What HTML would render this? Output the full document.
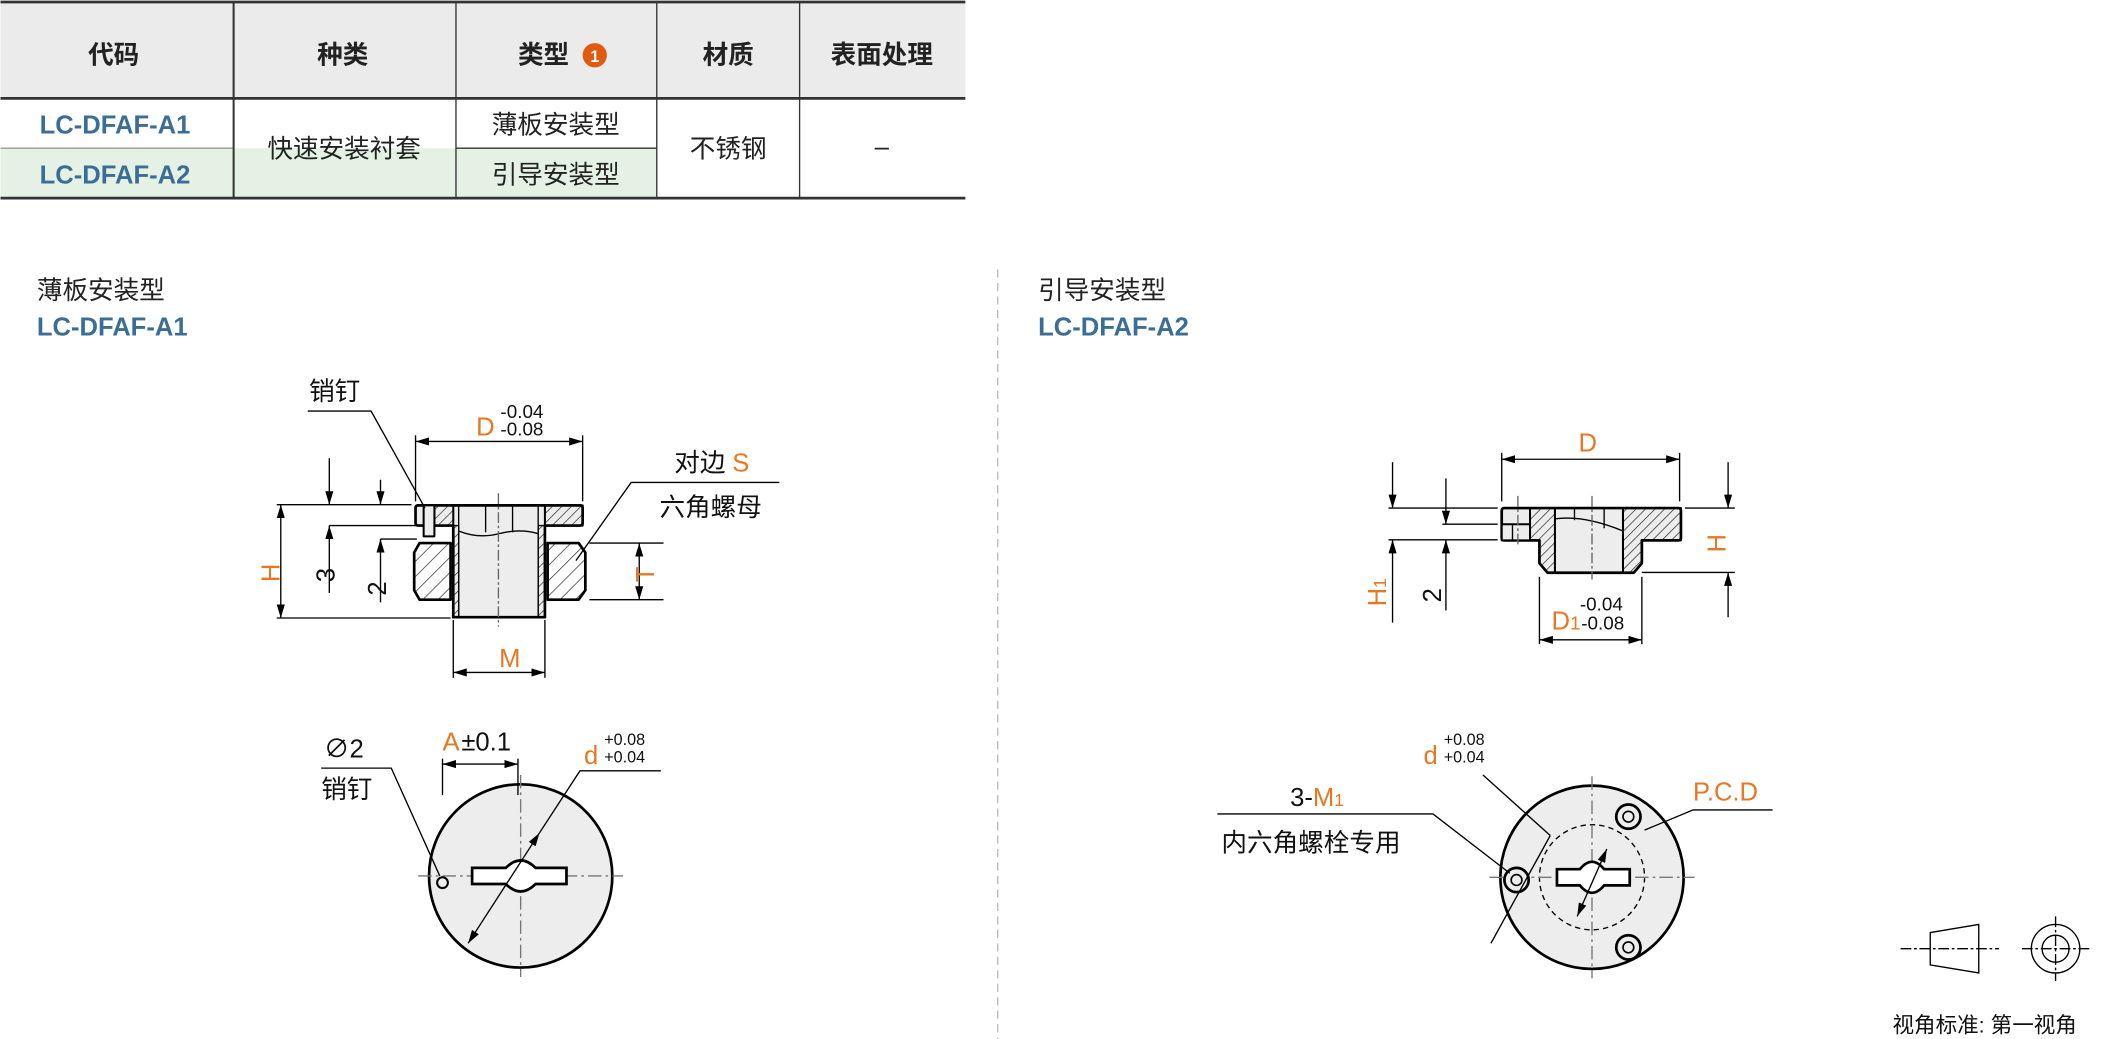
<!DOCTYPE html>
<html><head><meta charset="utf-8"><style>
html,body{margin:0;padding:0;background:#fff;}
svg{display:block;}
text{font-family:"Liberation Sans","Noto Sans CJK SC",sans-serif;}
</style></head><body>
<svg width="2114" height="1039" viewBox="0 0 1568 771" xmlns="http://www.w3.org/2000/svg">
<defs>
<pattern id="h" width="5" height="5" patternUnits="userSpaceOnUse" patternTransform="rotate(45)"><line x1="0" y1="0" x2="0" y2="5" stroke="#222" stroke-width="1"/></pattern>
<pattern id="h2" width="8" height="8" patternUnits="userSpaceOnUse" patternTransform="rotate(45)"><line x1="0" y1="0" x2="0" y2="8" stroke="#222" stroke-width="1"/></pattern>
<marker id="a" viewBox="0 0 10 6" refX="10" refY="3" markerWidth="10" markerHeight="6" orient="auto-start-reverse" markerUnits="userSpaceOnUse"><path d="M0,0 L10,3 L0,6z" fill="#000"/></marker>
</defs>
<!-- table -->
<rect x="0" y="2" width="716" height="71" fill="#ebebeb"/>
<rect x="0" y="110" width="173" height="37" fill="#e4f1e4"/>
<rect x="173" y="73" width="165" height="74" fill="#e4f1e4"/>
<rect x="173" y="73" width="165" height="37" fill="#fff"/>
<rect x="338" y="110" width="149" height="37" fill="#e4f1e4"/>
<g stroke="#333" fill="none">
<line x1="0" y1="1.5" x2="716" y2="1.5" stroke-width="2"/>
<line x1="0" y1="73" x2="716" y2="73" stroke-width="2"/>
<line x1="0" y1="147" x2="716" y2="147" stroke-width="2"/>
<line x1="0" y1="110" x2="173" y2="110" stroke-width="1" stroke="#999"/>
<line x1="338" y1="110" x2="487" y2="110" stroke-width="1"/>
<line x1="173" y1="2" x2="173" y2="147" stroke-width="1.5"/>
<line x1="338" y1="2" x2="338" y2="147" stroke-width="1"/>
<line x1="487" y1="2" x2="487" y2="147" stroke-width="1"/>
<line x1="593" y1="2" x2="593" y2="147" stroke-width="1"/>
</g>
<g font-size="19" font-weight="bold" text-anchor="middle" fill="#222">
<text x="84" y="47">代码</text><text x="254" y="47">种类</text><text x="403" y="47">类型</text>
<text x="540" y="47">材质</text><text x="654" y="47">表面处理</text>
</g>
<circle cx="441" cy="41" r="9" fill="#e05a10"/><text x="441" y="46" font-size="12" font-weight="bold" fill="#fff" text-anchor="middle">1</text>
<g font-size="19" text-anchor="middle" fill="#222">
<text x="85" y="99" font-weight="bold" fill="#3b6e96">LC-DFAF-A1</text>
<text x="85" y="136" font-weight="bold" fill="#3b6e96">LC-DFAF-A2</text>
<text x="255" y="117">快速安装衬套</text>
<text x="412" y="99">薄板安装型</text>
<text x="412" y="136">引导安装型</text>
<text x="540" y="117">不锈钢</text>
<text x="654" y="115">–</text>
</g>
<!-- separator -->
<line x1="740" y1="200" x2="740" y2="771" stroke="#bbb" stroke-dasharray="6,4"/>
<!-- titles -->
<text x="27" y="222" font-size="19" fill="#222">薄板安装型</text>
<text x="27" y="249" font-size="19" font-weight="bold" fill="#3b6e96">LC-DFAF-A1</text>
<text x="770" y="222" font-size="19" fill="#222">引导安装型</text>
<text x="770" y="249" font-size="19" font-weight="bold" fill="#3b6e96">LC-DFAF-A2</text>

<!-- LEFT side view -->
<g stroke="#000" stroke-width="2" stroke-linejoin="round">
<path d="M310,375 H430 Q432,375 432,377 V388 Q432,390 430,390 H404 V458 H336 V390 H310 Q308,390 308,388 V377 Q308,375 310,375Z" fill="#ededed"/>
<path d="M322,375 H336 V390 H322Z M404,375 H432 V390 H404Z" fill="url(#h)" stroke-width="1.5"/>
<path d="M336,390 H340 V458 H336Z M399,390 H404 V458 H399Z" fill="url(#h)" stroke-width="1"/>
<path d="M311,403 H334 V445 H311 L307,438 V410Z" fill="url(#h2)"/>
<path d="M406,403 H429 L434,410 V438 L429,445 H406Z" fill="url(#h2)"/>
<rect x="314" y="375" width="8" height="23" fill="#ededed" stroke-width="1.5"/>
</g>
<g stroke="#000" stroke-width="1" fill="none">
<line x1="340" y1="375" x2="340" y2="458"/><line x1="399" y1="375" x2="399" y2="458"/>
<line x1="360" y1="375" x2="360" y2="395"/><line x1="380" y1="375" x2="380" y2="395"/>
<path d="M340,394 Q355,400 370,396 T399,396"/>
<line x1="369.5" y1="366" x2="369.5" y2="465" stroke-dasharray="8,2,2,2" stroke="#666"/>
<!-- dims -->
<line x1="308" y1="323" x2="308" y2="372"/><line x1="432" y1="323" x2="432" y2="372"/>
<line x1="308" y1="327.6" x2="432" y2="327.6" marker-start="url(#a)" marker-end="url(#a)"/>
<line x1="205" y1="374.5" x2="305" y2="374.5"/><line x1="205" y1="458.6" x2="334" y2="458.6"/>
<line x1="208" y1="374.5" x2="208" y2="458.6" marker-start="url(#a)" marker-end="url(#a)"/>
<line x1="244" y1="340" x2="244" y2="374.5" marker-end="url(#a)"/>
<line x1="244" y1="390" x2="244" y2="440" marker-start="url(#a)"/>
<line x1="244" y1="390" x2="308" y2="390"/>
<line x1="282" y1="356" x2="282" y2="374.5" marker-end="url(#a)"/>
<line x1="282" y1="400" x2="282" y2="447" marker-start="url(#a)"/>
<line x1="282" y1="400" x2="309" y2="400"/>
<line x1="336" y1="460" x2="336" y2="503"/><line x1="404" y1="460" x2="404" y2="503"/>
<line x1="336" y1="499" x2="404" y2="499" marker-start="url(#a)" marker-end="url(#a)"/>
<line x1="437" y1="403" x2="492" y2="403"/><line x1="437" y1="445" x2="492" y2="445"/>
<line x1="474" y1="403" x2="474" y2="445" marker-start="url(#a)" marker-end="url(#a)"/>
<polyline points="228,305 275,305 315,377"/>
<polyline points="578,358 468,358 427,416"/>
</g>
<g font-size="19" fill="#e87722">
<text x="353" y="323">D</text><text x="186" y="425" transform="rotate(-90 200 418)">H</text>
<text x="370" y="495">M</text><text x="470" y="431" transform="rotate(-90 478 424)">T</text>
<text x="543" y="350">S</text>
</g>
<g font-size="14" fill="#111"><text x="371" y="310">-0.04</text><text x="371" y="323">-0.08</text></g>
<g font-size="19" fill="#111">
<text x="234" y="430" transform="rotate(-90 242 424)">3</text>
<text x="272" y="440" transform="rotate(-90 280 434)">2</text>
<text x="229" y="297">销钉</text><text x="500" y="350">对边</text><text x="489" y="383">六角螺母</text>
</g>

<!-- LEFT bottom view -->
<circle cx="386" cy="650" r="68" fill="#ededed" stroke="#000" stroke-width="2"/>
<g stroke="#777" stroke-width="1" stroke-dasharray="10,3,2,3"><line x1="310" y1="650" x2="462" y2="650"/><line x1="386" y1="575" x2="386" y2="725"/></g>
<path d="M350,644 H375 Q386,633 397,644 H420 V656 H397 Q386,667 375,656 H350Z" fill="#fff" stroke="#000" stroke-width="2"/>
<circle cx="328" cy="655" r="4" fill="#ededed" stroke="#000" stroke-width="1.5"/>
<g stroke="#000" stroke-width="1" fill="none">
<line x1="328" y1="563" x2="328" y2="590"/><line x1="384" y1="563" x2="384" y2="590"/>
<line x1="328" y1="567" x2="384" y2="567" marker-start="url(#a)" marker-end="url(#a)"/>
<polyline points="238,570 290,570 326,650"/>
<line x1="347" y1="700" x2="400" y2="618" marker-start="url(#a)" marker-end="url(#a)"/>
<polyline points="400,618 430,572 490,572"/>
</g>
<text x="240" y="562" font-size="19" fill="#111">∅2</text>
<text x="238" y="592" font-size="19" fill="#111">销钉</text>
<text x="328" y="557" font-size="19" fill="#e87722">A</text><text x="342" y="557" font-size="19" fill="#111">±0.1</text>
<text x="433" y="567" font-size="19" fill="#e87722">d</text>
<g font-size="12" fill="#111"><text x="448" y="553">+0.08</text><text x="448" y="566">+0.04</text></g>

<!-- RIGHT side view -->
<g stroke="#000" stroke-width="2" stroke-linejoin="round">
<path d="M1116,377 H1245 Q1247,377 1247,379 V399 Q1247,401 1245,401 H1218 V418 L1212,425 H1148 L1142,418 V401 H1116 Q1114,401 1114,399 V379 Q1114,377 1116,377Z" fill="#ededed"/>
<path d="M1204,377 H1247 V401 H1218 V418 L1212,425 H1204Z" fill="url(#h)" stroke-width="1.5"/>
<path d="M1135,377 H1153.5 V425 H1148 L1142,418 V401 H1135Z" fill="url(#h)" stroke-width="1.5"/>
<rect x="1114" y="389" width="21" height="12" fill="#ededed" stroke-width="1.5"/>
</g>
<g stroke="#000" stroke-width="1" fill="none">
<line x1="1153.5" y1="377" x2="1153.5" y2="425"/>
<line x1="1168" y1="377" x2="1168" y2="386"/><line x1="1190" y1="377" x2="1190" y2="392"/>
<path d="M1153.5,385 Q1175,382 1204,394"/>
<line x1="1120" y1="389" x2="1135" y2="389"/><line x1="1122" y1="389" x2="1122" y2="401"/>
<line x1="1181" y1="368" x2="1181" y2="430" stroke="#666" stroke-dasharray="8,2,2,2"/>
<line x1="1126" y1="368" x2="1126" y2="406" stroke="#666" stroke-dasharray="8,2,2,2"/>
<line x1="1114" y1="336" x2="1114" y2="372"/><line x1="1246" y1="336" x2="1246" y2="372"/>
<line x1="1114" y1="340.8" x2="1246" y2="340.8" marker-start="url(#a)" marker-end="url(#a)"/>
<line x1="1030" y1="377" x2="1111" y2="377"/><line x1="1030" y1="400.6" x2="1111" y2="400.6"/>
<line x1="1070" y1="389" x2="1111" y2="389"/>
<line x1="1033" y1="343" x2="1033" y2="377" marker-end="url(#a)"/>
<line x1="1033" y1="400.6" x2="1033" y2="462" marker-start="url(#a)"/>
<line x1="1072.6" y1="355" x2="1072.6" y2="389" marker-end="url(#a)"/>
<line x1="1072.6" y1="400.6" x2="1072.6" y2="453" marker-start="url(#a)"/>
<line x1="1250" y1="377" x2="1287" y2="377"/><line x1="1218" y1="424.8" x2="1287" y2="424.8"/>
<line x1="1282" y1="343" x2="1282" y2="377" marker-end="url(#a)"/>
<line x1="1282" y1="424.8" x2="1282" y2="458" marker-start="url(#a)"/>
<line x1="1142" y1="428" x2="1142" y2="478"/><line x1="1218" y1="428" x2="1218" y2="478"/>
<line x1="1142" y1="474.8" x2="1218" y2="474.8" marker-start="url(#a)" marker-end="url(#a)"/>
</g>
<g font-size="19" fill="#e87722">
<text x="1171" y="335">D</text><text x="1262" y="408" transform="rotate(-90 1272 400)">H</text>
<text x="1010" y="448" transform="rotate(-90 1020 440)">H<tspan font-size="13">1</tspan></text>
<text x="1151" y="467">D<tspan font-size="14">1</tspan></text>
</g>
<text x="1052" y="444" font-size="19" fill="#111" transform="rotate(-90 1062 437)">2</text>
<g font-size="14" fill="#111"><text x="1172" y="453">-0.04</text><text x="1173" y="467">-0.08</text></g>

<!-- RIGHT bottom view -->
<circle cx="1181" cy="651" r="68" fill="#ededed" stroke="#000" stroke-width="2"/>
<circle cx="1181" cy="651" r="39" fill="none" stroke="#000" stroke-dasharray="4,3"/>
<g stroke="#777" stroke-width="1" stroke-dasharray="10,3,2,3"><line x1="1105" y1="651" x2="1257" y2="651"/><line x1="1181" y1="576" x2="1181" y2="726"/></g>
<path d="M1155,645 H1172 Q1181,634 1190,645 H1209 V657 H1190 Q1181,668 1172,657 H1155Z" fill="#fff" stroke="#000" stroke-width="2"/>
<g fill="#ededed" stroke="#000" stroke-width="2">
<circle cx="1208" cy="606" r="9"/><circle cx="1125" cy="653" r="9"/><circle cx="1208" cy="703" r="9"/>
</g>
<g fill="none" stroke="#000" stroke-width="1.2"><circle cx="1208" cy="606" r="4"/><circle cx="1125" cy="653" r="4"/><circle cx="1208" cy="703" r="4"/></g>
<g stroke="#000" stroke-width="1" fill="none">
<line x1="1106" y1="700" x2="1150" y2="620"/>
<line x1="1170" y1="680" x2="1192" y2="630" marker-start="url(#a)" marker-end="url(#a)"/>
<line x1="1150" y1="620" x2="1100" y2="575"/>
<polyline points="903,604 1063,604 1120,648"/>
<polyline points="1315,601 1256,601 1220,616"/>
</g>
<text x="1056" y="567" font-size="19" fill="#e87722">d</text>
<g font-size="12" fill="#111"><text x="1071" y="553">+0.08</text><text x="1071" y="566">+0.04</text></g>
<text x="957" y="598" font-size="19" fill="#111">3-<tspan fill="#e87722">M<tspan font-size="13">1</tspan></tspan></text>
<text x="906" y="632" font-size="19" fill="#111">内六角螺栓专用</text>
<text x="1256" y="594" font-size="19" fill="#e87722">P.C.D</text>

<!-- projection symbol -->
<g stroke="#000" stroke-width="1" fill="none">
<path d="M1432,692 L1468,686 V722 L1432,716Z"/>
<line x1="1410" y1="704" x2="1483" y2="704" stroke-dasharray="8,2,2,2"/>
<circle cx="1525" cy="704" r="18"/><circle cx="1525" cy="704" r="10"/>
<line x1="1500" y1="704" x2="1550" y2="704" stroke-dasharray="8,2,2,2"/>
<line x1="1525" y1="680" x2="1525" y2="728" stroke-dasharray="8,2,2,2"/>
</g>
<text x="1404" y="766" font-size="16" fill="#111">视角标准: 第一视角</text>
</svg>
</body></html>
